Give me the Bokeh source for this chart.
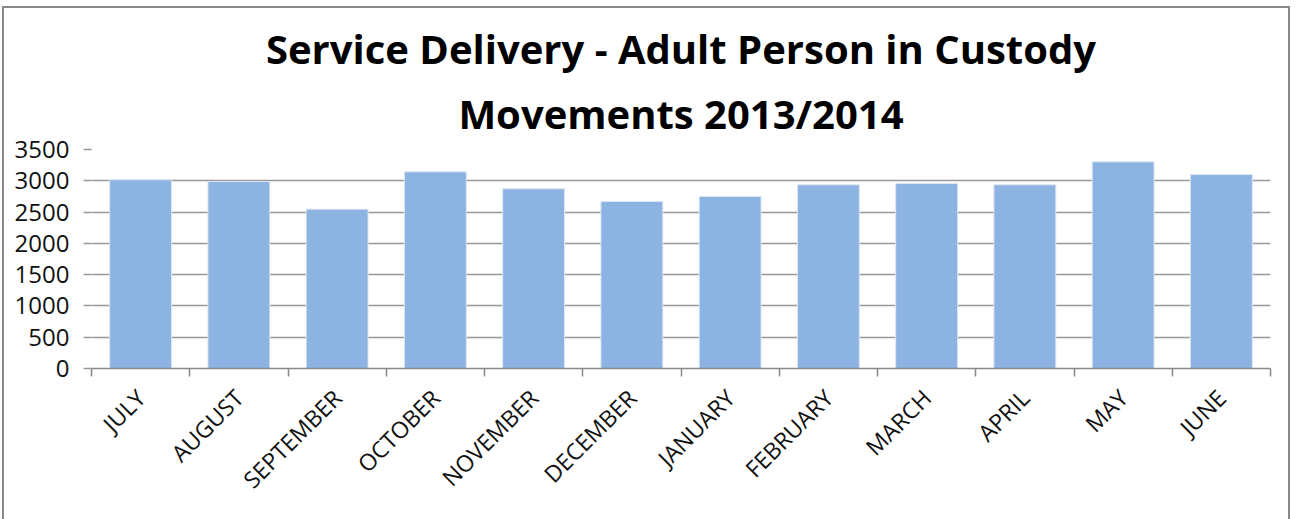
import math
from bokeh.plotting import figure
from bokeh.models import FixedTicker, Title, Range1d, ColumnDataSource
from bokeh.embed import file_html
from bokeh.resources import INLINE

months = ["JULY", "AUGUST", "SEPTEMBER", "OCTOBER", "NOVEMBER", "DECEMBER",
          "JANUARY", "FEBRUARY", "MARCH", "APRIL", "MAY", "JUNE"]
movements = [3016, 2988, 2546, 3143, 2872, 2669, 2749, 2936, 2957, 2936, 3303, 3100]
y_ticks = [0, 500, 1000, 1500, 2000, 2500, 3000, 3500]
title_lines = ["Service Delivery - Adult Person in Custody", "Movements 2013/2014"]

xs = [i + 0.5 for i in range(len(months))]
src = ColumnDataSource(dict(x=xs, v=movements, m=months))

p = figure(frame_width=1179, frame_height=219,
           x_range=Range1d(0, len(months)), y_range=Range1d(0, 3500),
           output_backend="svg", toolbar_location=None,
           min_border_left=87, min_border_right=18, min_border_top=141, min_border_bottom=151)
p.outline_line_color = None
p.styles = {"border": "2px solid #888888", "border-bottom": "none", "box-sizing": "border-box",
            "margin-left": "2px", "margin-top": "6px"}

t2 = Title(text=title_lines[1], align="center", text_font="Open Sans",
           text_font_size="40px", text_font_style="bold", text_color="#000000",
           standoff=17)
t1 = Title(text=title_lines[0], align="center",
           text_font="Open Sans", text_font_size="40px", text_font_style="bold",
           text_color="#000000", standoff=0)
p.add_layout(t2, "above")
p.add_layout(t1, "above")

p.vbar(x="x", top="v", width=0.63, source=src, fill_color="#8DB3E2",
       line_color="#DCE6F2", line_width=1)

# x axis
p.xaxis.ticker = FixedTicker(ticks=xs, minor_ticks=list(range(len(months) + 1)))
p.xaxis.major_label_overrides = {x: m for x, m in zip(xs, months)}
p.xaxis.major_label_orientation = math.pi / 4
p.xaxis.major_tick_line_color = None
p.xaxis.minor_tick_line_color = "#888888"
p.xaxis.minor_tick_line_width = 1.5
p.xaxis.minor_tick_out = 8
p.xaxis.minor_tick_in = 0
p.xaxis.axis_line_color = "#888888"
p.xaxis.axis_line_width = 1.5
p.xaxis.major_label_text_font = "Open Sans"
p.xaxis.major_label_text_font_size = "23px"
p.xaxis.major_label_text_color = "#111111"
p.xaxis.major_label_standoff = 17
p.xgrid.grid_line_color = None

# y axis
p.yaxis.ticker = FixedTicker(ticks=y_ticks)
p.yaxis.axis_line_color = None
p.yaxis.major_tick_line_color = "#999999"
p.yaxis.major_tick_line_width = 1.5
p.yaxis.major_tick_out = 8
p.yaxis.major_tick_in = 0
p.yaxis.minor_tick_line_color = None
p.yaxis.major_label_text_font = "Open Sans"
p.yaxis.major_label_text_font_size = "24px"
p.yaxis.major_label_text_color = "#111111"
p.yaxis.major_label_standoff = 14
p.ygrid.ticker = FixedTicker(ticks=y_ticks)
p.ygrid.grid_line_color = "#999999"
p.ygrid.grid_line_width = 1.5

open("out.html", "w").write(file_html(p, INLINE))
